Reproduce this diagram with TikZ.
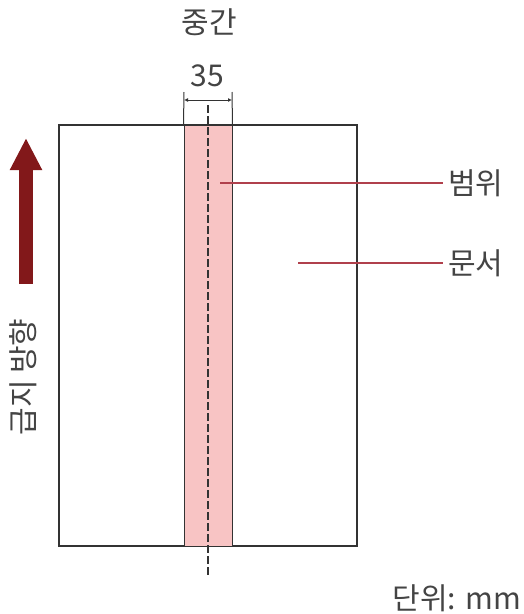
\documentclass[tikz,border=0pt]{standalone}
\usepackage{fontspec}
\setmainfont{Noto Sans CJK KR}
\usepackage{xcolor}
\definecolor{ink}{RGB}{51,51,51}
\definecolor{txt}{RGB}{68,68,68}
\definecolor{band}{RGB}{248,196,196}
\definecolor{feed}{RGB}{130,24,26}
\definecolor{leader}{RGB}{176,64,76}
\usetikzlibrary{arrows.meta, positioning}

\begin{document}
\begin{tikzpicture}[
        x=1pt, y=-1pt,
        sheet/.style={rectangle, draw=ink, line width=1.4pt, minimum width=298pt, minimum height=421pt, inner sep=0pt},
        strip/.style={rectangle, draw=ink, line width=1pt, fill=band, minimum width=48pt, minimum height=421pt, inner sep=0pt},
        label/.style={text=txt, font=\fontsize{30}{34}\selectfont, inner sep=0pt},
        leaderline/.style={leader, line width=1.6pt},
        dim/.style={ink, line width=1pt},
        centre/.style={ink, line width=1.5pt, dash pattern=on 8pt off 3pt}
    ]
        \useasboundingbox (0,0) rectangle (524,614);

        \node[sheet] (doc) at (208,335.5) {};
        \node[strip] (range) at (208,335.5) {};

        % centre line
        \coordinate (ctop) at (208,105);
        \coordinate (cbot) at (208,576);
        \draw[centre] (ctop) -- (cbot);

        % dimension
        \coordinate (dl) at (184,92);
        \coordinate (dr) at (232,92);
        \draw[dim] (range.north west) -- (dl);
        \draw[dim] (range.north east) -- (dr);
        \draw[dim, {Latex[length=4pt,width=4pt]}-{Latex[length=4pt,width=4pt]}] (184,100) -- (232,100);
        \node[label] (width) at (207,76) {35};
        \node[label] (middle) at (209,22) {중간};

        % labels on the right
        \node[label, anchor=west] (rangelbl) at (448,183) {범위};
        \node[label, anchor=west] (doclbl) at (448,263) {문서};
        \coordinate (rangept) at (220,183);
        \coordinate (docpt) at (298,263);
        \draw[leaderline] (rangept) -- (rangept -| 443,0);
        \draw[leaderline] (docpt) -- (docpt -| 443,0);

        % feed direction
        \coordinate (fbot) at (26,284);
        \coordinate (ftop) at (26,138);
        \draw[feed, line width=14pt, -{Triangle[width=30pt,length=32pt]}] (fbot) -- (ftop);
        \node[label, rotate=90] (feedlbl) at (23,377) {급지 방향};

        \node[label, anchor=east] (unit) at (521,598) {단위: mm};
    \end{tikzpicture}
\end{document}
